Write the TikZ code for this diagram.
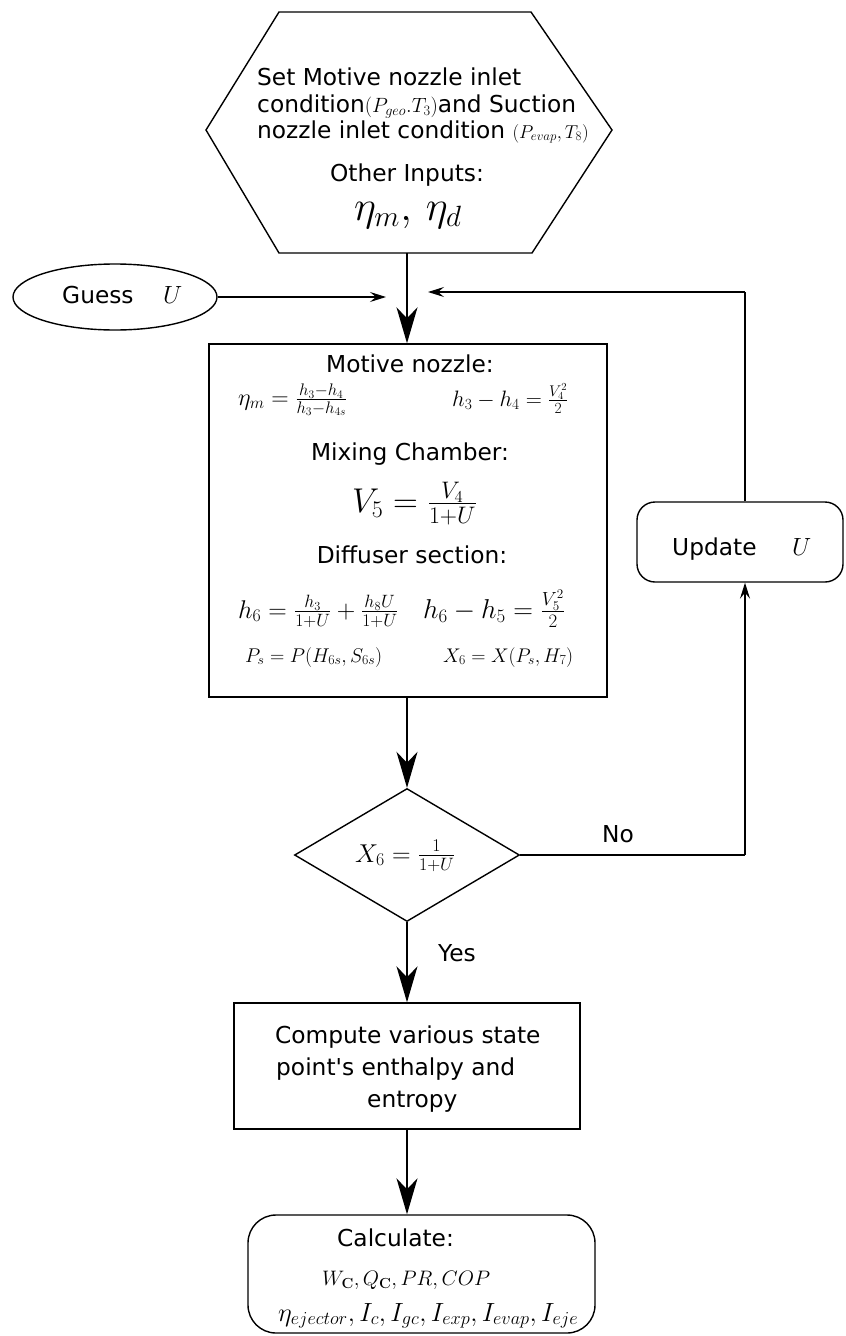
\documentclass[tikz,border=0pt]{standalone}
\usepackage[no-math]{fontspec}
\setmainfont{DejaVu Sans}
\usepackage{graphicx}
\usetikzlibrary{shapes.geometric,arrows.meta,calc}

% formula set to a given width
\newcommand\fm[2]{\resizebox{#1}{!}{$#2$}}

\begin{document}
\begin{tikzpicture}[x=1pt,y=-1pt,
  font=\fontsize{23.3}{28}\selectfont,
  flow/.style={line width=2.2pt,-{Stealth[length=36pt,width=21pt,inset=11pt]}},
  link/.style={line width=1.1pt,-{Stealth[length=16pt,width=10pt,inset=6pt]}},
  plain/.style={line width=1.1pt},
  outline/.style={draw,line width=1.4pt,inner sep=0pt},
  txt/.style={inner sep=0pt,anchor=base west},
  ctxt/.style={inner sep=0pt,anchor=base},
  bigU/.style={font=\fontsize{25}{25}\selectfont}]
\useasboundingbox (0,0) rectangle (846,1336);

% ---- input block (hexagon) ----
\draw[line width=1.4pt] (206,130) -- (279,12) -- (531,12) -- (612,130)
  -- (532,253) -- (279,253) -- cycle;
\coordinate (hexS) at (407,253);
\node[txt] (in1) at (257,85) {Set Motive nozzle inlet};
\node[txt] (in2) at (257,112) {condition\fm{73pt}{(P_{geo}.T_3)}and Suction};
\node[txt] (in3) at (257,138) {nozzle inlet condition \fm{76pt}{(P_{evap},T_8)}};
\node[ctxt] (in4) at (407,181) {Other Inputs:};
\node[ctxt] (in5) at (408,220) {\fm{108pt}{\eta_m,\, \eta_d}};

% ---- initial guess ----
\node[outline,ellipse,minimum width=204pt,minimum height=66pt] (guess) at (115,297) {};
\node[txt] (guessT) at (62,303) {Guess};
\node[txt,bigU] (guessU) at (163,303) {$U$};

% ---- ejector model block ----
\node[outline,rectangle,minimum width=398pt,minimum height=353pt] (motive) at (408,520.5) {};
\node[ctxt] (m1) at (410,372) {Motive nozzle:};
\node[txt] (m2) at (238,405) {\fm{109pt}{\eta_m = \frac{h_3 - h_4}{h_3 - h_{4s}}}};
\node[txt] (m3) at (452,406) {\fm{116pt}{h_3 - h_4 = \frac{V_4^2}{2}}};
\node[ctxt] (m4) at (410,460) {Mixing Chamber:};
\node[txt] (m5) at (352,512) {\fm{125pt}{V_5 = \frac{V_4}{1+U}}};
\node[ctxt] (m6) at (412,563) {Diffuser section:};
\node[txt] (m7) at (238,618) {\fm{160pt}{h_6 = \frac{h_3}{1+U} + \frac{h_8 U}{1+U}}};
\node[txt] (m8) at (423,618) {\fm{142pt}{h_6 - h_5 = \frac{V_5^2}{2}}};
\node[txt] (m9) at (245,662) {\fm{137pt}{P_s = P(H_{6s}, S_{6s})}};
\node[txt] (m10) at (443,662) {\fm{130pt}{X_6 = X(P_s, H_7)}};

% ---- convergence test ----
\node[outline,diamond,minimum width=225pt,minimum height=133pt] (dia) at (407,855) {};
\node[txt] (diaT) at (355,862) {\fm{100pt}{X_6 = \frac{1}{1+U}}};

% ---- update ----
\node[outline,rectangle,rounded corners=18pt,minimum width=206pt,minimum height=80pt] (update) at (740,542) {};
\node[txt] (updateT) at (672,555) {Update};
\node[txt,bigU] (updateU) at (792,555) {$U$};

% ---- state points ----
\node[outline,rectangle,minimum width=346pt,minimum height=126pt] (compute) at (407,1066) {};
\node[txt] (c1) at (275,1043) {Compute various state};
\node[txt] (c2) at (276,1075) {point\textquotesingle s enthalpy and};
\node[txt] (c3) at (367,1107) {entropy};

% ---- results ----
\node[outline,rectangle,rounded corners=28pt,minimum width=347pt,minimum height=118pt] (calc) at (421.5,1274) {};
\node[txt] (r1) at (337,1246) {Calculate:};
\node[txt] (r2) at (322,1285) {\fm{168pt}{W_{\mathbf{C}}, Q_{\mathbf{C}}, PR, COP}};
\node[txt] (r3) at (278,1321) {\fm{300pt}{\eta_{ejector}, I_c, I_{gc}, I_{exp}, I_{evap}, I_{eje}}};

% ---- connectors ----
\coordinate (gEnd) at (386,297);
\coordinate (uEnd) at (428,292);
\coordinate (loopTop) at (745,292);
\coordinate (noCorner) at (745,855);

\draw[flow] (hexS) -- (hexS |- motive.north);
\draw[link] (guess.east) -- (gEnd);
\draw[plain] (loopTop |- update.north) -- (loopTop);
\draw[link] (loopTop) -- (uEnd);
\draw[flow] (dia.north |- motive.south) -- (dia.north);
\draw[plain] (dia.east) -- (noCorner);
\draw[link] (noCorner) -- (noCorner |- update.south);
\draw[flow] (dia.south) -- (dia.south |- compute.north);
\draw[flow] (compute.south) -- (compute.south |- calc.north);

\node[txt] (no) at (602,842) {No};
\node[txt] (yes) at (438,961) {Yes};
\end{tikzpicture}
\end{document}
